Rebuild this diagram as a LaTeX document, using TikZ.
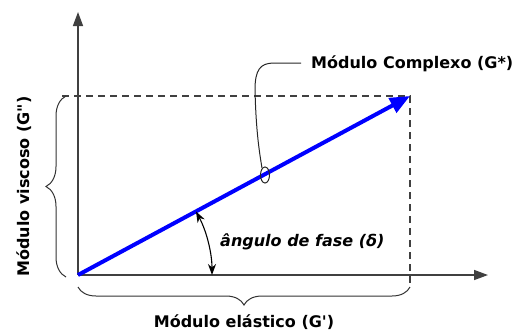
\documentclass[tikz,border=0pt]{standalone}
\usepackage{fontspec}
\setmainfont{DejaVu Sans}[Ligatures=TeXOff]
\usetikzlibrary{arrows.meta,decorations.pathreplacing}
\begin{document}
\begin{tikzpicture}[x=1pt,y=-1pt,
  axis/.style={draw=black!75,line width=1.4pt},
  guide/.style={draw=black!75,line width=1.1pt,dash pattern=on 7pt off 5pt},
  brc/.style={draw=black!80,line width=1pt,decorate,decoration={brace,amplitude=#1}},
  lbl/.style={font=\bfseries\fontsize{16}{19}\selectfont,text=black,inner sep=0pt},
  thin/.style={draw=black!85,line width=1pt}]
\useasboundingbox (0,0) rectangle (518,333);
\coordinate (O) at (78,275);
\coordinate (Ytop) at (78,12);
\coordinate (Xend) at (488,275);
\coordinate (P) at (410,96);
\coordinate (Pl) at (62,96);
\coordinate (Pb) at (410,287);
\draw[axis,-{Triangle[length=14pt,width=10pt]}] (O) -- (Ytop);
\draw[axis,-{Triangle[length=14pt,width=10pt]}] (O) -- (Xend);
\draw[guide] (Pl) -- (P) -- (Pb);
\draw[blue,line width=4pt,-{Triangle[length=20pt,width=16pt]}] (O) -- (P);
% braces
\draw[brc=20pt] (66,277) -- (66,96) node[midway,left=34pt,rotate=90,anchor=south,lbl] (vis) {Módulo viscoso (G")};
\draw[brc=18pt] (410,287) -- (78,287) node[midway,below=27pt,lbl] (ela) {Módulo elástico (G')};
% complex label and leader
\node[lbl,anchor=west] (cpx) at (311,64) {Módulo Complexo (G*)};
\coordinate (L) at (265,175);
\draw[thin] (cpx.west) ++(-10,-1) -- (274,63) .. controls (260,63) and (255,70) .. (255,90) .. controls (256,130) and (259,150) .. (262,168);
\draw[thin] (L) ellipse [x radius=4.5pt,y radius=8pt];
% angle
\draw[black,line width=1.1pt,{Stealth[length=11pt,width=8pt]}-{Stealth[length=11pt,width=8pt]}] (O) ++(-28.3:134) arc[start angle=-28.3,end angle=0,radius=134];
\node[lbl,font=\bfseries\itshape\fontsize{16}{19}\selectfont,anchor=west] (ang) at (220,242) {ângulo de fase (δ)};
\end{tikzpicture}
\end{document}
